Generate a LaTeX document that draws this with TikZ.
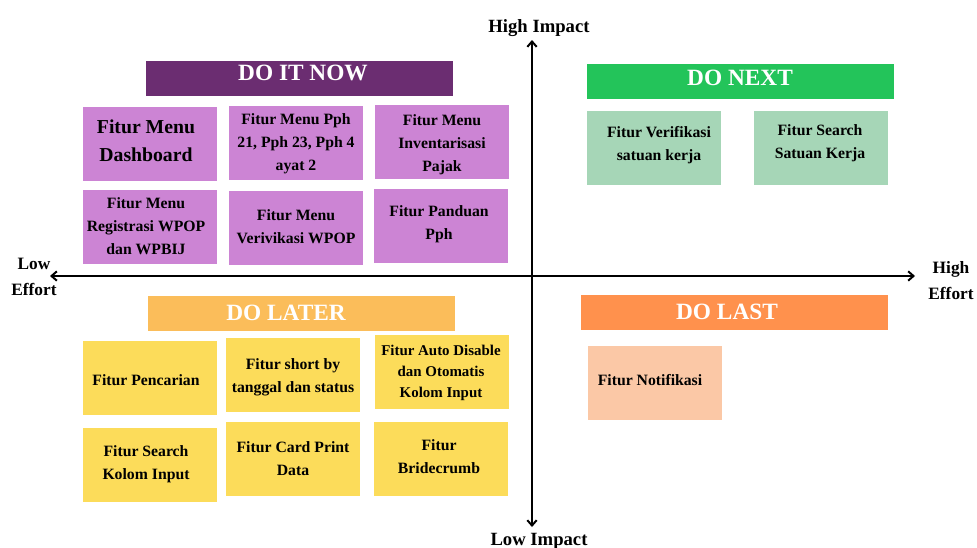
\documentclass[tikz,border=0pt]{standalone}
\usepackage{fontspec}
\setmainfont{Liberation Serif}
\usetikzlibrary{arrows.meta}
\definecolor{hpurple}{HTML}{6B2D71}
\definecolor{bpurple}{HTML}{CC84D4}
\definecolor{hgreen}{HTML}{23C45A}
\definecolor{bgreen}{HTML}{A6D6B7}
\definecolor{hlater}{HTML}{FBBD5A}
\definecolor{byellow}{HTML}{FCDC5A}
\definecolor{hlast}{HTML}{FF914D}
\definecolor{bpeach}{HTML}{FBC8A6}
\begin{document}
\begin{tikzpicture}[x=0.75pt,y=-0.75pt,
  box/.style={rectangle, inner sep=0pt, outer sep=0pt, minimum width=100.5pt, minimum height=55.5pt},
  hdr/.style={rectangle, inner sep=0pt, outer sep=0pt, minimum width=230.25pt, minimum height=26.25pt},
  txt/.style={font=\fontsize{11.8}{17.25}\selectfont\bfseries, align=center, anchor=base, inner sep=0pt},
  bigtxt/.style={font=\fontsize{14.8}{21}\selectfont\bfseries, align=center, anchor=base, inner sep=0pt},
  htxt/.style={font=\fontsize{17.5}{20}\selectfont\bfseries, text=white, anchor=center, inner sep=0pt},
  axtxt/.style={font=\fontsize{14}{19}\selectfont\bfseries, align=center, anchor=base, inner sep=0pt},
  efftxt/.style={font=\fontsize{13}{19.5}\selectfont\bfseries, align=center, anchor=base, inner sep=0pt},
  axis/.style={line width=1.5pt, {Straight Barb[length=4pt,width=7pt]}-{Straight Barb[length=4pt,width=7pt]}}
]
\useasboundingbox (0,0) rectangle (977,547);

% axes
\coordinate (xl) at (50,276);
\coordinate (xr) at (915,276);
\coordinate (yt) at (532,40);
\coordinate (yb) at (532,527);
\draw[axis] (xl) -- (xr);
\draw[axis] (yt) -- (yb);

\node[axtxt] (hi) at (539,32) {High Impact};
\node[axtxt] (li) at (539,545) {Low Impact};
\node[efftxt] (le) at (34,295) {Low\\Effort};
\node[efftxt] (he) at (951,299) {High\\Effort};

% headers
\node[hdr, fill=hpurple] (h1) at (299.5,78.5) {};
\node[htxt] (h1t) at (303,73) {DO IT NOW};
\node[hdr, fill=hgreen] (h2) at (740.5,81.5) {};
\node[htxt] (h2t) at (740,78) {DO NEXT};
\node[hdr, fill=hlater] (h3) at (301.5,313.5) {};
\node[htxt] (h3t) at (286,313) {DO LATER};
\node[hdr, fill=hlast] (h4) at (734.5,312.5) {};
\node[htxt] (h4t) at (727,312) {DO LAST};

% DO IT NOW boxes
\node[box, fill=bpurple] (p1) at (150,144) {};
\node[bigtxt] (p1t) at (146,161) {Fitur Menu\\Dashboard};
\node[box, fill=bpurple] (p2) at (296,143) {};
\node[txt] (p2t) at (296,170) {Fitur Menu Pph\\21, Pph 23, Pph 4\\ayat 2};
\node[box, fill=bpurple] (p3) at (442,142) {};
\node[txt] (p3t) at (442,171) {Fitur Menu\\Inventarisasi\\Pajak};
\node[box, fill=bpurple] (p4) at (150,227) {};
\node[txt] (p4t) at (146,254) {Fitur Menu\\Registrasi WPOP\\dan WPBIJ};
\node[box, fill=bpurple] (p5) at (296,228) {};
\node[txt] (p5t) at (296,243) {Fitur Menu\\Verivikasi WPOP};
\node[box, fill=bpurple] (p6) at (441,226) {};
\node[txt] (p6t) at (439,239) {Fitur Panduan\\Pph};

% DO NEXT boxes
\node[box, fill=bgreen] (g1) at (654,148) {};
\node[txt] (g1t) at (659,160) {Fitur Verifikasi\\satuan kerja};
\node[box, fill=bgreen] (g2) at (821,148) {};
\node[txt] (g2t) at (820,158) {Fitur Search\\Satuan Kerja};

% DO LATER boxes
\node[box, fill=byellow] (y1) at (150,378) {};
\node[txt] (y1t) at (146,385) {Fitur Pencarian};
\node[box, fill=byellow] (y2) at (293,375) {};
\node[txt] (y2t) at (293,392) {Fitur short by\\tanggal dan status};
\node[box, fill=byellow] (y3) at (442,372) {};
\node[txt, font=\fontsize{11.2}{15.75}\selectfont\bfseries] (y3t) at (441,397) {Fitur Auto Disable\\dan Otomatis\\Kolom Input};
\node[box, fill=byellow] (y4) at (150,465) {};
\node[txt] (y4t) at (146,479) {Fitur Search\\Kolom Input};
\node[box, fill=byellow] (y5) at (293,459) {};
\node[txt] (y5t) at (293,475) {Fitur Card Print\\Data};
\node[box, fill=byellow] (y6) at (441,459) {};
\node[txt] (y6t) at (439,473) {Fitur\\Bridecrumb};

% DO LAST box
\node[box, fill=bpeach] (o1) at (655,383) {};
\node[txt] (o1t) at (650,385) {Fitur Notifikasi};
\end{tikzpicture}
\end{document}
